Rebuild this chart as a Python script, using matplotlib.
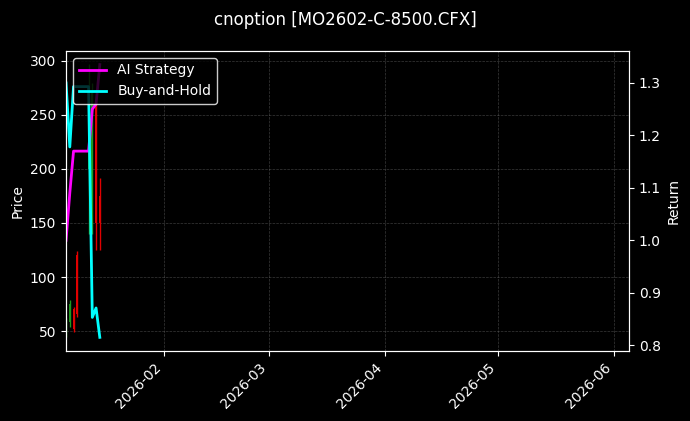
import matplotlib
matplotlib.use("Agg")
import matplotlib.pyplot as plt
import matplotlib.dates as mdates
import numpy as np
import pandas as pd

# ---- data ----
dates = pd.to_datetime(["2026-01-06", "2026-01-07", "2026-01-08", "2026-01-09",
                        "2026-01-12", "2026-01-13", "2026-01-14", "2026-01-15"])
opens = [50, 58, 70, 120, 200, 150, 258, 175]
highs = [62, 79, 72, 124, 297, 280, 262, 192]
lows = [44, 54, 49, 63, 140, 140, 125, 125]
closes = [58, 75, 52, 66, 230, 270, 150, 150]

ai_strategy = [1.00, 1.09, 1.17, 1.17, 1.17, 1.25, 1.26, 1.335]
buy_hold = [1.30, 1.178, 1.293, 1.293, 1.293, 0.853, 0.871, 0.815]

title = "cnoption [MO2602-C-8500.CFX]"
x_start, x_end = "2026-01-06", "2026-06-05"

# ---- plot ----
plt.style.use("dark_background")
fig = plt.figure(figsize=(6.9, 4.21), dpi=100)
ax = fig.add_axes([0.0957, 0.1663, 0.8159, 0.7127])
ax2 = ax.twinx()

up = [c >= o for o, c in zip(opens, closes)]
colors = ["#1f9a1f" if u else "#e00000" for u in up]
xnum = mdates.date2num(dates)
ax.vlines(xnum, lows, highs, colors=colors, linewidth=1)
bottoms = [min(o, c) for o, c in zip(opens, closes)]
heights = [abs(c - o) for o, c in zip(opens, closes)]
ax.bar(xnum, heights, bottom=bottoms, width=0.55, color=colors, linewidth=0)

ax2.plot(dates, ai_strategy, color="#ff00ff", linewidth=2, label="AI Strategy")
ax2.plot(dates, buy_hold, color="#00ffff", linewidth=2, label="Buy-and-Hold")

ax.set_xlim(mdates.date2num(pd.Timestamp(x_start)), mdates.date2num(pd.Timestamp(x_end)))
ax.set_ylim(31.5, 309.3)
ax2.set_ylim(0.789, 1.361)
ax.set_yticks([50, 100, 150, 200, 250, 300])
ax2.set_yticks([0.8, 0.9, 1.0, 1.1, 1.2, 1.3])

ax.xaxis.set_major_locator(mdates.MonthLocator())
ax.xaxis.set_major_formatter(mdates.DateFormatter("%Y-%m"))
for lbl in ax.get_xticklabels():
    lbl.set_rotation(45)
    lbl.set_ha("right")

ax.grid(True, linestyle="--", linewidth=0.5, color="gray", alpha=0.45)
ax.set_ylabel("Price", color="white")
ax2.set_ylabel("Return", color="white")
for a in (ax, ax2):
    for s in a.spines.values():
        s.set_color("white")

leg = ax2.legend(loc="upper left", facecolor="black", edgecolor="white",
                 framealpha=0.8, fontsize=10)

fig.suptitle(title, fontsize=12, color="white", y=0.975)
fig.savefig("out.png", dpi=100, facecolor="black")
